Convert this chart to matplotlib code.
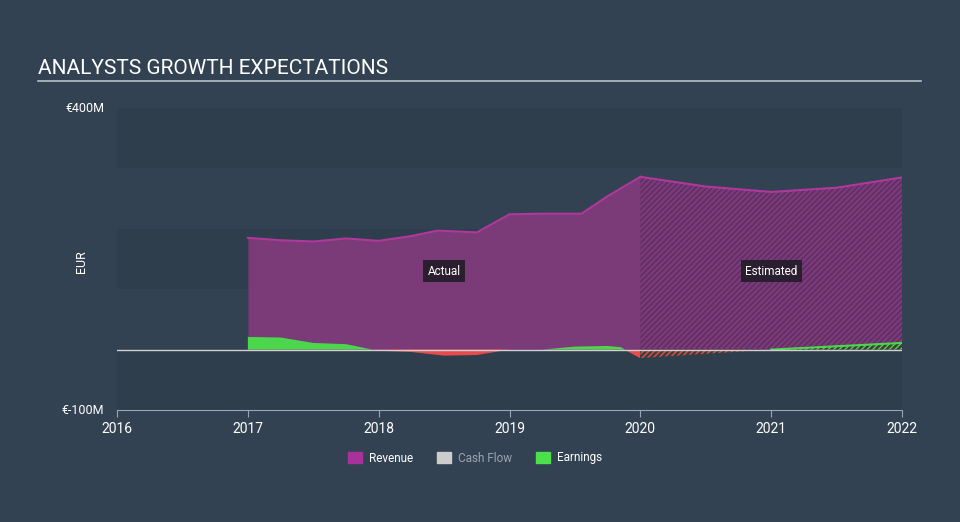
import numpy as np
import matplotlib.pyplot as plt
from matplotlib.patches import Patch

# revenue, EUR millions
rev_years = [2017.0, 2017.25, 2017.5, 2017.75, 2018.0, 2018.25, 2018.45, 2018.75,
             2019.0, 2019.25, 2019.55, 2019.75, 2020.0]
rev_vals = [185, 181, 179, 184, 180, 188, 197, 194, 224, 225, 225, 254, 286]
est_years = [2020.0, 2020.5, 2021.0, 2021.5, 2022.0]
est_rev = [286, 270, 261, 268, 285]

# earnings, EUR millions
earn_years = [2017.0, 2017.25, 2017.5, 2017.75, 2018.0, 2018.25, 2018.5, 2018.75,
              2019.0, 2019.25, 2019.5, 2019.75, 2019.85, 2020.0]
earn_vals = [21, 20, 11, 9, -2, -4, -10, -9, 0, 0, 5, 6, 4, -14]
est_earn_years = [2020.0, 2021.0, 2022.0]
est_earn = [-14, 0, 11]

bg = "#334252"
plt.rcParams['font.family'] = ['Roboto', 'DejaVu Sans']

fig = plt.figure(figsize=(9.6, 5.22), dpi=100, facecolor=bg)
ax = fig.add_axes([0.1219, 0.2146, 0.8177, 0.5785], facecolor=bg)

# banded background
for lo, c in [(-100, "#2f3e4d"), (0, "#334252"), (100, "#2f3e4d"),
              (200, "#334252"), (300, "#2f3e4d")]:
    ax.axhspan(lo, lo + 100, color=c, lw=0, zorder=0)

ax.fill_between(rev_years, 0, rev_vals, color="#7b3a78", lw=0, zorder=1)
ax.plot(rev_years, rev_vals, color="#b0389c", lw=1.5, zorder=3)
ax.fill_between(est_years, 0, est_rev, facecolor="#7b3a78", edgecolor="#5b2d63",
                hatch="//////", lw=0, zorder=1)
ax.plot(est_years, est_rev, color="#b0389c", lw=1.5, zorder=3)

ey = np.array(earn_years)
ev = np.array(earn_vals)
ax.fill_between(ey, 0, ev, where=ev >= 0, interpolate=True, color="#4cd64c", lw=0, zorder=2)
ax.fill_between(ey, 0, ev, where=ev < 0, interpolate=True, color="#e84b4b", lw=0, zorder=2)
eey = np.array(est_earn_years)
eev = np.array(est_earn)
ax.fill_between(eey, 0, eev, where=eev >= 0, interpolate=True, facecolor="#3a3f3a",
                edgecolor="#4cd64c", hatch="//////", lw=0, zorder=2)
ax.fill_between(eey, 0, eev, where=eev < 0, interpolate=True, facecolor="#3a3f3a",
                edgecolor="#e84b4b", hatch="//////", lw=0, zorder=2)
ax.plot(eey, np.where(eev >= 0, eev, np.nan), color="#4cd64c", lw=1.5, zorder=3)
ax.plot(eey, np.where(eev < 0, eev, np.nan), color="#e84b4b", lw=1.5, zorder=3)

ax.axhline(0, color="#d0d0d0", lw=1, zorder=4)

ax.text(2018.5, 130, "Actual", color="white", fontsize=8.5, ha="center", va="center",
        bbox=dict(facecolor="#2a1f2e", edgecolor="none", pad=3))
ax.text(2021.0, 130, "Estimated", color="white", fontsize=8.5, ha="center", va="center",
        bbox=dict(facecolor="#2a1f2e", edgecolor="none", pad=3))

ax.set_xlim(2016, 2022)
ax.set_ylim(-100, 400)
ax.set_xticks(range(2016, 2023))
ax.set_yticks([])
ax.tick_params(axis="x", colors="#9aa5b1", labelcolor="white", labelsize=10,
               length=5, direction="out")
for s in ["top", "right", "left"]:
    ax.spines[s].set_visible(False)
ax.spines["bottom"].set_color("#9aa5b1")

fig.text(104 / 960, 1 - 108 / 522, "€400M", color="white", fontsize=9, ha="right", va="center")
fig.text(104 / 960, 1 - 410 / 522, "€-100M", color="white", fontsize=9, ha="right", va="center")
fig.text(82 / 960, 1 - 262 / 522, "EUR", color="white", fontsize=9, rotation=90,
         ha="center", va="center")

fig.text(38 / 960, 1 - 68 / 522, "ANALYSTS GROWTH EXPECTATIONS", color="white",
         fontsize=15, ha="left", va="center")
fig.add_artist(plt.Line2D([38 / 960, 921 / 960], [1 - 81 / 522, 1 - 81 / 522],
                          color="#b8bec6", lw=1.2))

handles = [Patch(color="#a8329a", label="Revenue"),
           Patch(color="#cccccc", label="Cash Flow"),
           Patch(color="#4ce04c", label="Earnings")]
leg = fig.legend(handles=handles, loc="center", bbox_to_anchor=(0.495, 1 - 458 / 522),
                 ncol=3, frameon=False, fontsize=8.5, handlelength=1.2, handleheight=1.0,
                 columnspacing=2.0, handletextpad=0.6)
for t, c in zip(leg.get_texts(), ["white", "#9aa5b1", "white"]):
    t.set_color(c)

fig.savefig("out.png", dpi=100, facecolor=bg)
